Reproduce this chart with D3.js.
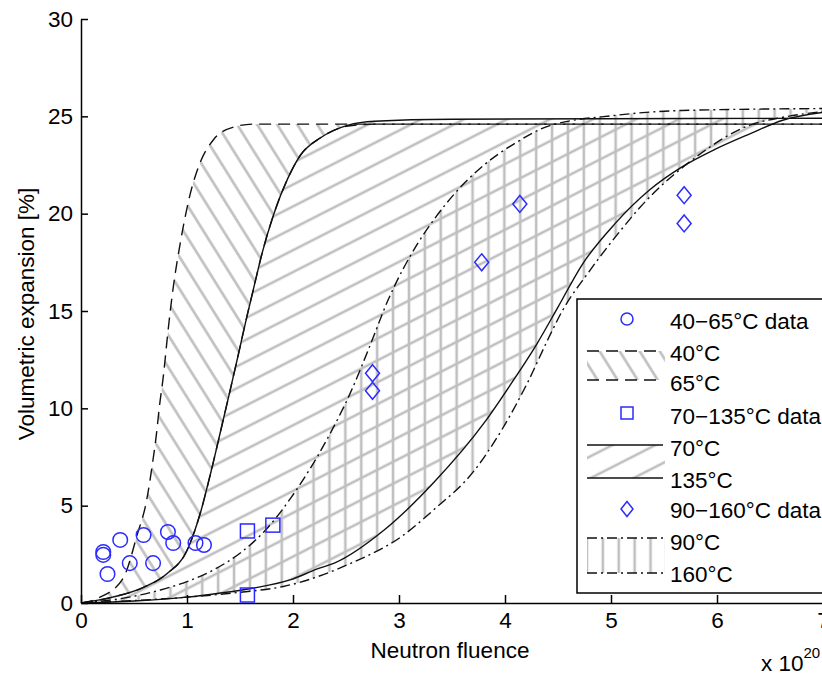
<!DOCTYPE html>
<html>
<head>
<meta charset="utf-8">
<script src="https://cdn.jsdelivr.net/npm/d3@7"></script>
<style>
  body { margin: 0; background: #fff; }
  text { font-family: "Liberation Sans", Arial, sans-serif; fill: #000; }
</style>
</head>
<body>
<svg id="chart" width="822" height="675"></svg>
<script>
// neutron fluence in units of 1e20, volumetric expansion in %
const xTicks = [0, 1, 2, 3, 4, 5, 6, 7];
const yTicks = [0, 5, 10, 15, 20, 25, 30];

// model bands
const curve40 = [[0,0],[0.18,0.3],[0.4,1.3],[0.53,3.5],[0.62,5.3],[0.67,7.0],[0.71,8.6],[0.74,10.1],[0.78,11.8],[0.81,13.4],[0.84,14.9],[0.87,16.2],[0.94,18.6],[1.03,21.0],[1.13,22.7],[1.25,23.8],[1.44,24.45],[1.63,24.6],[7,24.6]];
const curve65 = [[0,0],[0.3,0.3],[0.59,0.8],[0.81,1.5],[1.0,2.7],[1.13,4.7],[1.22,6.6],[1.32,8.9],[1.41,11.0],[1.49,12.9],[1.56,14.6],[1.63,16.2],[1.71,18.0],[1.82,20.0],[1.95,21.8],[2.07,23.0],[2.26,23.9],[2.52,24.5],[2.77,24.6],[7,24.6]];
const curve70 = [[0,0],[0.3,0.3],[0.59,0.8],[0.81,1.5],[1.0,2.7],[1.13,4.7],[1.22,6.6],[1.32,8.9],[1.41,11.0],[1.49,12.9],[1.56,14.6],[1.63,16.2],[1.71,18.0],[1.82,20.0],[1.95,21.8],[2.07,23.0],[2.26,23.9],[2.52,24.55],[2.77,24.75],[3.5,24.85],[7,24.9]];
const curve135 = [[0,0],[0.5,0.1],[1.0,0.3],[1.3,0.5],[1.63,0.77],[1.98,1.2],[2.23,1.75],[2.39,2.05],[2.86,3.75],[3.33,6.2],[3.81,9.3],[4.05,11.2],[4.3,13.3],[4.5,15.2],[4.73,17.4],[5.04,19.5],[5.36,21.2],[5.67,22.4],[5.98,23.3],[6.31,24.1],[6.62,24.8],[7,25.2]];
const curve90 = [[0,0],[0.4,0.25],[0.75,0.67],[1.0,1.1],[1.25,1.7],[1.51,2.6],[1.75,3.8],[1.98,5.4],[2.33,8.5],[2.55,10.9],[2.71,13.0],[2.9,15.6],[3.18,18.5],[3.33,19.7],[3.52,21.0],[3.78,22.4],[4.09,23.6],[4.41,24.5],[5.04,25.05],[5.67,25.3],[7,25.4]];
const curve160 = [[0,0],[1.0,0.3],[1.5,0.55],[1.91,0.85],[2.55,2.05],[3.02,3.4],[3.33,4.8],[3.71,6.8],[3.97,8.9],[4.22,11.4],[4.41,13.6],[4.54,15.0],[4.79,17.0],[5.1,19.2],[5.27,20.3],[5.8,22.9],[6.31,24.55],[6.62,24.95],[7,25.25]];

// measurements
const data40to65 = [[0.21,2.62],[0.21,2.47],[0.25,1.49],[0.37,3.24],[0.46,2.05],[0.59,3.49],[0.68,2.05],[0.82,3.65],[0.87,3.08],[1.08,3.08],[1.16,2.98]];
const data70to135 = [[1.57,3.7],[1.81,4.0],[1.57,0.41]];
const data90to160 = [[2.75,11.8],[2.75,10.9],[3.78,17.5],[4.14,20.5],[5.69,20.95],[5.69,19.5]];

const legendLabels = ["40\u221265\u00b0C data", "40\u00b0C", "65\u00b0C", "70\u2212135\u00b0C data", "70\u00b0C", "135\u00b0C", "90\u2212160\u00b0C data", "90\u00b0C", "160\u00b0C"];

const margin = { top: 19, left: 81 };
const width = 742, height = 584;
const blue = "#2b2bff", hatchGrey = "#bfbfbf";

const svg = d3.select("#chart");
const x = d3.scaleLinear().domain([0, 7]).range([0, width]);
const y = d3.scaleLinear().domain([0, 30]).range([height, 0]);

const defs = svg.append("defs");
function hatch(id, spacing, angle, offset) {
  const p = defs.append("pattern")
    .attr("id", id)
    .attr("patternUnits", "userSpaceOnUse")
    .attr("width", spacing).attr("height", spacing)
    .attr("patternTransform", `translate(${offset},0) rotate(${angle})`);
  p.append("line")
    .attr("x1", spacing / 2).attr("x2", spacing / 2)
    .attr("y1", -1).attr("y2", spacing + 1)
    .attr("stroke", hatchGrey).attr("stroke-width", 2.6);
}
hatch("hatchBack", 17, -32, 0);
hatch("hatchFwd", 19.5, 63, 0);
hatch("hatchVert", 15.9, 0, 2);

const below = d3.area()
  .curve(d3.curveMonotoneX)
  .x(d => x(d[0]))
  .y0(y(0))
  .y1(d => y(d[1]));
const line = d3.line()
  .curve(d3.curveMonotoneX)
  .x(d => x(d[0]))
  .y(d => y(d[1]));

const g = svg.append("g").attr("transform", `translate(${margin.left},${margin.top})`);

// band = area under the left curve minus area under the right one
function band(id, left, right, pattern) {
  const m = defs.append("mask").attr("id", id).attr("maskUnits", "userSpaceOnUse")
    .attr("x", -10).attr("y", -10).attr("width", width + 20).attr("height", height + 20);
  m.append("path").attr("d", below(left)).attr("fill", "#fff");
  m.append("path").attr("d", below(right)).attr("fill", "#000");
  g.append("rect")
    .attr("width", width).attr("height", height)
    .attr("fill", `url(#${pattern})`)
    .attr("mask", `url(#${id})`);
}
band("band1", curve40, curve65, "hatchBack");
band("band2", curve70, curve135, "hatchFwd");
band("band3", curve90, curve160, "hatchVert");

const curves = [
  { pts: curve65, dash: "12,7" },
  { pts: curve40, dash: "12,7" },
  { pts: curve90, dash: "10,4,2,4" },
  { pts: curve160, dash: "10,4,2,4" },
  { pts: curve70, dash: null },
  { pts: curve135, dash: null }
];
g.selectAll(".curve").data(curves).enter().append("path")
  .attr("class", "curve")
  .attr("d", d => line(d.pts))
  .attr("fill", "none")
  .attr("stroke", "#111")
  .attr("stroke-width", 1.4)
  .attr("stroke-dasharray", d => d.dash);

// axes
const yAxis = g.append("g")
  .call(d3.axisLeft(y).tickValues(yTicks).tickFormat(d3.format("d"))
    .tickSize(-7).tickSizeOuter(0).tickPadding(8));
const xAxis = g.append("g")
  .attr("transform", `translate(0,${height})`)
  .call(d3.axisBottom(x).tickValues(xTicks).tickFormat(d3.format("d"))
    .tickSize(-8).tickSizeOuter(0).tickPadding(9));
[xAxis, yAxis].forEach(a => {
  a.selectAll("text").style("font-size", "22.5px").attr("fill", "#000");
  a.selectAll("line,path").attr("stroke", "#000").attr("stroke-width", 1.5);
  a.attr("font-family", null);
});

// markers
function diamondPath(cx, cy, w, h) {
  return `M${cx},${cy - h}L${cx + w},${cy}L${cx},${cy + h}L${cx - w},${cy}Z`;
}
g.selectAll(".c40").data(data40to65).enter().append("circle")
  .attr("cx", d => x(d[0])).attr("cy", d => y(d[1])).attr("r", 7.3)
  .attr("fill", "none").attr("stroke", blue).attr("stroke-width", 1.5);
g.selectAll(".s70").data(data70to135).enter().append("rect")
  .attr("x", d => x(d[0]) - 7).attr("y", d => y(d[1]) - 7)
  .attr("width", 14).attr("height", 14)
  .attr("fill", "none").attr("stroke", blue).attr("stroke-width", 1.5);
g.selectAll(".d90").data(data90to160).enter().append("path")
  .attr("d", d => diamondPath(x(d[0]), y(d[1]), 7, 8.5))
  .attr("fill", "none").attr("stroke", blue).attr("stroke-width", 1.5);

// axis labels
svg.append("text")
  .attr("x", 450).attr("y", 658)
  .attr("text-anchor", "middle").style("font-size", "22.5px")
  .text("Neutron fluence");
svg.append("text")
  .attr("transform", "translate(34,314) rotate(-90)")
  .attr("text-anchor", "middle").style("font-size", "22.5px")
  .text("Volumetric expansion [%]");
const mult = svg.append("text").attr("x", 761).attr("y", 671).style("font-size", "22.5px");
mult.append("tspan").text("x 10");
mult.append("tspan").attr("dy", -13).style("font-size", "15px").text("20");

// legend
const lg = svg.append("g").attr("transform", "translate(577,299)");
lg.append("rect").attr("width", 260).attr("height", 294)
  .attr("fill", "#fff").attr("stroke", "#000").attr("stroke-width", 1.5);
const rowY = [22, 54, 84, 117, 149, 181, 211, 243, 275];
lg.selectAll(".lt").data(legendLabels).enter().append("text")
  .attr("x", 93).attr("y", (d, i) => rowY[i]).attr("dy", "0.36em")
  .style("font-size", "22.5px").text(d => d);
lg.append("circle").attr("cx", 50).attr("cy", rowY[0] - 2).attr("r", 6)
  .attr("fill", "none").attr("stroke", blue).attr("stroke-width", 1.5);
lg.append("rect").attr("x", 44).attr("y", rowY[3] - 9).attr("width", 12).attr("height", 12)
  .attr("fill", "none").attr("stroke", blue).attr("stroke-width", 1.5);
lg.append("path").attr("d", diamondPath(50, rowY[6] - 1, 6, 7.5))
  .attr("fill", "none").attr("stroke", blue).attr("stroke-width", 1.5);

const swatches = [
  { top: 52, bot: 81, fill: "hatchBack", dash: "12,7" },
  { top: 146, bot: 179, fill: "hatchFwd", dash: null },
  { top: 239, bot: 274, fill: "hatchVert", dash: "10,4,2,4" }
];
swatches.forEach(s => {
  lg.append("rect").attr("x", 10).attr("y", s.top).attr("width", 78).attr("height", s.bot - s.top)
    .attr("fill", `url(#${s.fill})`);
  [s.top, s.bot].forEach(v => {
    lg.append("line").attr("x1", 10).attr("x2", 86).attr("y1", v).attr("y2", v)
      .attr("stroke", "#111").attr("stroke-width", 1.4).attr("stroke-dasharray", s.dash);
  });
});
</script>
</body>
</html>
